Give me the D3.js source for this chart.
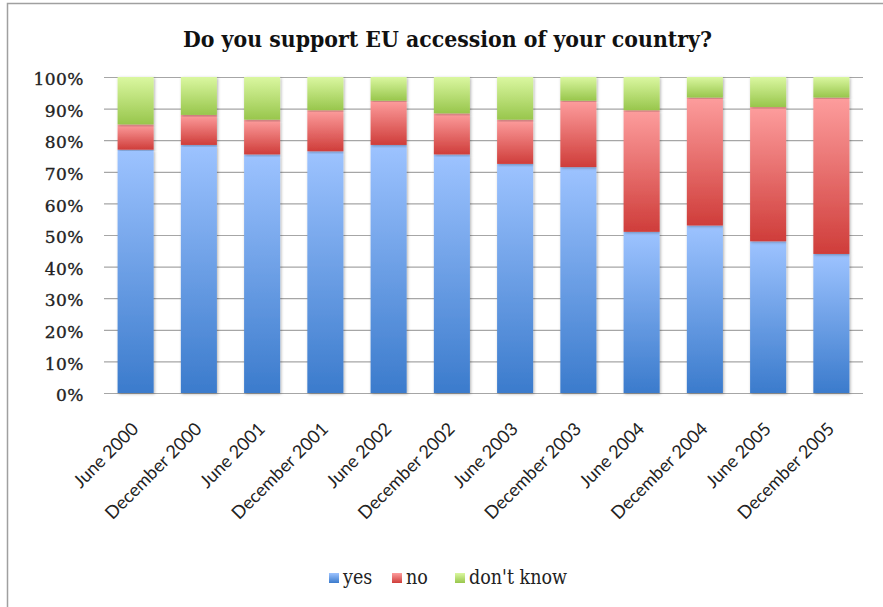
<!DOCTYPE html>
<html>
<head>
<meta charset="utf-8">
<script src="https://d3js.org/d3.v7.min.js"></script>
<style>
  body { margin: 0; background: #fff; }
</style>
</head>
<body>
<script>
// Data
const categories = ["June 2000", "December 2000", "June 2001", "December 2001", "June 2002", "December 2002",
                    "June 2003", "December 2003", "June 2004", "December 2004", "June 2005", "December 2005"];
const yes      = [77, 78.5, 75.5, 76.5, 78.5, 75.5, 72.5, 71.5, 51, 53, 48, 44];
const no       = [8, 9.5, 11, 13, 14, 13, 14, 21, 38.5, 40.5, 42.5, 49.5];
const dontKnow = [15, 12, 13.5, 10.5, 7.5, 11.5, 13.5, 7.5, 10.5, 6.5, 9.5, 6.5];
const seriesNames = ["yes", "no", "don't know"];
const yTicks = [0, 10, 20, 30, 40, 50, 60, 70, 80, 90, 100];

const W = 883, H = 607;
const plot = {left: 104, right: 863, top: 77, bottom: 393};
const serif = "'DejaVu Serif Condensed', 'DejaVu Serif', serif";

const svg = d3.select("body").append("svg").attr("width", W).attr("height", H);
const defs = svg.append("defs");

// vertical gradients for each series
const grads = [
  {id: "gYes", top: "#9dc3ff", bottom: "#3b7bcc"},
  {id: "gNo",  top: "#fd9d9d", bottom: "#cf3d3a"},
  {id: "gDk",  top: "#daf7a0", bottom: "#98c64c"}
];
grads.forEach(g => {
  const lg = defs.append("linearGradient").attr("id", g.id)
    .attr("x1", 0).attr("y1", 0).attr("x2", 0).attr("y2", 1);
  lg.append("stop").attr("offset", "0%").attr("stop-color", g.top);
  lg.append("stop").attr("offset", "100%").attr("stop-color", g.bottom);
});
const sh = defs.append("filter").attr("id", "shadow")
  .attr("x", "-20%").attr("y", "-5%").attr("width", "140%").attr("height", "110%");
sh.append("feDropShadow").attr("dx", 1).attr("dy", 1).attr("stdDeviation", 1.5)
  .attr("flood-color", "#000").attr("flood-opacity", 0.3);

// frame
svg.append("rect").attr("x", 7.5).attr("y", 3.5).attr("width", W + 10).attr("height", H + 10)
  .attr("fill", "none").attr("stroke", "#a0a0a0").attr("stroke-width", 1.5);

// title
svg.append("text").attr("x", 183).attr("y", 47)
  .attr("font-family", serif)
  .attr("font-weight", "bold").attr("font-size", 22).attr("fill", "#111")
  .attr("textLength", 529).attr("lengthAdjust", "spacingAndGlyphs")
  .text("Do you support EU accession of your country?");

const x = d3.scaleBand().domain(categories).range([plot.left, plot.right]).paddingInner(0.43).paddingOuter(0.215);
const y = d3.scaleLinear().domain([0, 100]).range([plot.bottom, plot.top]);

// gridlines
svg.append("g").selectAll("line").data(yTicks).enter().append("line")
  .attr("x1", plot.left).attr("x2", plot.right)
  .attr("y1", d => y(d) + 0.5).attr("y2", d => y(d) + 0.5)
  .attr("stroke", "#a6a6a6").attr("stroke-width", 1.2);

// y axis labels
const yAxis = svg.append("g").attr("transform", `translate(${plot.left},0)`)
  .call(d3.axisLeft(y).tickValues(yTicks).tickSize(0).tickPadding(20).tickFormat(d => d + "%"));
yAxis.select(".domain").remove();
yAxis.selectAll("text").attr("font-family", "'DejaVu Serif', serif")
  .attr("font-size", 17).attr("letter-spacing", 0.5).attr("dy", "0.45em")
  .attr("fill", "#222").attr("stroke", "#222").attr("stroke-width", 0.35);

// stacked bars
const rows = categories.map((c, i) => ({cat: c, yes: yes[i], no: no[i], dk: dontKnow[i]}));
const stack = d3.stack().keys(["yes", "no", "dk"])(rows);
const fills = ["url(#gYes)", "url(#gNo)", "url(#gDk)"];

svg.append("g").selectAll("g").data(stack).enter().append("g")
  .attr("fill", (d, i) => fills[i])
  .selectAll("rect").data(d => d).enter().append("rect")
  .attr("x", d => x(d.data.cat))
  .attr("width", x.bandwidth())
  .attr("y", d => y(d[1]))
  .attr("height", d => y(d[0]) - y(d[1]))
  .attr("filter", "url(#shadow)");

// x labels
svg.append("g").selectAll("text").data(categories).enter().append("text")
  .attr("transform", d => `translate(${x(d) + x.bandwidth() / 2 + 4},${plot.bottom + 37}) rotate(-45)`)
  .attr("text-anchor", "end")
  .attr("font-family", "Lato, 'Open Sans', sans-serif")
  .attr("font-size", 18).attr("fill", "#222")
  .text(d => d);

// legend
const legendX = [329, 392, 455];
const legend = svg.append("g").selectAll("g").data(seriesNames).enter().append("g")
  .attr("transform", (d, i) => `translate(${legendX[i]},584)`);
legend.append("rect").attr("x", 0).attr("y", -11).attr("width", 10).attr("height", 10)
  .attr("fill", (d, i) => fills[i]);
legend.append("text").attr("x", 14).attr("y", 0)
  .attr("font-family", serif).attr("font-size", 19.5).attr("fill", "#222")
  .text(d => d);
</script>
</body>
</html>
